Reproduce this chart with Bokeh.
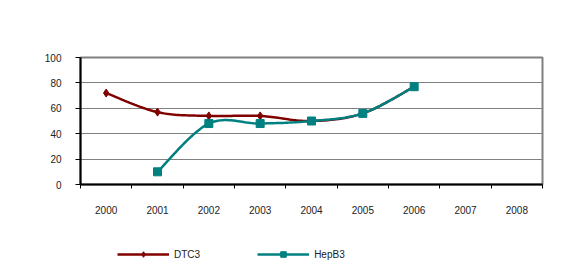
import numpy as np
from bokeh.plotting import figure
from bokeh.layouts import column
from bokeh.models import (FixedTicker, Range1d, Legend, LegendItem, BoxAnnotation)
from bokeh.embed import file_html
from bokeh.resources import INLINE

years = ["2000", "2001", "2002", "2003", "2004", "2005", "2006", "2007", "2008"]
dtc3_years = ["2000", "2001", "2002", "2003", "2004", "2005", "2006"]
dtc3 = [72, 57, 54, 54, 50, 56, 77]
hepb3_years = ["2001", "2002", "2003", "2004", "2005", "2006"]
hepb3 = [10, 48, 48, 50, 56, 77]
y_ticks = [0, 20, 40, 60, 80, 100]
series_names = ["DTC3", "HepB3"]

FONT = "Liberation Sans"
red = "#800000"
teal = "#008080"
STRIP = "#f4f4f4"
EDGE = "#c4c4c4"


def xpos(labels):
    return [years.index(l) + 0.5 for l in labels]


def smooth(xs, ys, n=24):
    """Catmull-Rom style smoothing through the data points (like Excel's smoothed line)."""
    xs = np.asarray(xs, float)
    ys = np.asarray(ys, float)
    pts = np.column_stack([xs, ys])
    out = [pts[0]]
    for i in range(len(pts) - 1):
        p0 = pts[i - 1] if i > 0 else pts[i]
        p1 = pts[i]
        p2 = pts[i + 1]
        p3 = pts[i + 2] if i + 2 < len(pts) else pts[i + 1]
        c1 = p1 + (p2 - p0) / 6.0
        c2 = p2 - (p3 - p1) / 6.0
        t = np.linspace(0, 1, n)[1:, None]
        seg = ((1 - t) ** 3) * p1 + 3 * ((1 - t) ** 2) * t * c1 + 3 * (1 - t) * t ** 2 * c2 + t ** 3 * p2
        out.extend(seg)
    out = np.array(out)
    return out[:, 0], out[:, 1]


def screen_box(fig, left, right, bottom, top, color):
    fig.add_layout(BoxAnnotation(left=left, right=right, bottom=bottom, top=top,
                                 left_units="screen", right_units="screen",
                                 bottom_units="screen", top_units="screen",
                                 fill_color=color, fill_alpha=1, line_color=None,
                                 level="underlay"))


p = figure(width=561, height=230, output_backend="svg", toolbar_location=None,
           x_range=Range1d(0, len(years)), y_range=Range1d(0, 100),
           min_border_left=80, min_border_right=19, min_border_top=57, min_border_bottom=46)

p.background_fill_color = "white"
p.border_fill_color = "white"
p.outline_line_color = "#808080"
p.outline_line_width = 2

# page-like frame around the chart (screen units relative to the plot frame)
screen_box(p, -80, -70, -46, 57 + 127, STRIP)
screen_box(p, -80, 481, 127 + 48, 127 + 57, STRIP)
screen_box(p, -70, -68, -46, 127 + 48, EDGE)
screen_box(p, -70, 481, 127 + 46, 127 + 48, EDGE)

p.xgrid.grid_line_color = None
p.ygrid.ticker = FixedTicker(ticks=y_ticks)
p.ygrid.grid_line_color = "#808080"
p.ygrid.grid_line_width = 1

# x axis: labels centred in categories, ticks between them
p.xaxis.ticker = FixedTicker(ticks=[i + 0.5 for i in range(len(years))],
                             minor_ticks=list(range(len(years) + 1)))
p.xaxis.major_label_overrides = {i + 0.5: y for i, y in enumerate(years)}
p.xaxis.major_tick_line_color = None
p.xaxis.major_tick_out = 0
p.xaxis.major_tick_in = 0
p.xaxis.minor_tick_line_color = "black"
p.xaxis.minor_tick_out = 4
p.xaxis.minor_tick_in = 0
p.xaxis.major_label_standoff = 17
p.xaxis.axis_line_color = "black"
p.xaxis.axis_line_width = 2

p.yaxis.ticker = FixedTicker(ticks=y_ticks)
p.yaxis.minor_tick_line_color = None
p.yaxis.major_tick_out = 5
p.yaxis.major_tick_in = 0
p.yaxis.major_tick_line_color = "black"
p.yaxis.major_label_standoff = 14
p.yaxis.axis_line_color = "black"
p.yaxis.axis_line_width = 2

for ax in (p.xaxis, p.yaxis):
    ax.major_label_text_font = FONT
    ax.major_label_text_font_size = "10px"
    ax.major_label_text_color = "#222222"

sx, sy = smooth(xpos(dtc3_years), dtc3)
p.line(sx, sy, line_color=red, line_width=2.5)
p.scatter(xpos(dtc3_years), dtc3, marker="diamond", size=8, fill_color=red, line_color=red)

sx2, sy2 = smooth(xpos(hepb3_years), hepb3)
p.line(sx2, sy2, line_color=teal, line_width=2.5)
p.scatter(xpos(hepb3_years), hepb3, marker="square", size=8, fill_color=teal, line_color=teal)

# legend strip below the chart (its own small figure; the series are drawn
# there out of its visible range so only the legend shows)
lg = figure(width=561, height=37, output_backend="svg", toolbar_location=None,
            x_range=Range1d(-1000, -999), y_range=Range1d(-1000, -999),
            min_border_left=0, min_border_right=0, min_border_top=0, min_border_bottom=0,
            x_axis_location=None, y_axis_location=None)
lg.grid.visible = False
lg.outline_line_color = None
lg.background_fill_color = "white"
lg.border_fill_color = "white"
screen_box(lg, -80, -70, -5, 40, STRIP)
screen_box(lg, -70, -68, -5, 40, EDGE)
dl1 = lg.line(xpos(dtc3_years), dtc3, line_color=red, line_width=2.5)
dm1 = lg.scatter(xpos(dtc3_years), dtc3, marker="diamond", size=8, fill_color=red, line_color=red)
dl2 = lg.line(xpos(hepb3_years), hepb3, line_color=teal, line_width=2.5)
dm2 = lg.scatter(xpos(hepb3_years), hepb3, marker="square", size=8, fill_color=teal, line_color=teal)

legend = Legend(items=[LegendItem(label=series_names[0], renderers=[dl1, dm1]),
                       LegendItem(label=series_names[1], renderers=[dl2, dm2])],
                orientation="horizontal", location=(37, 6),
                glyph_width=52, glyph_height=14, label_height=14, label_standoff=5,
                spacing=57, padding=0, margin=0,
                label_text_font=FONT, label_text_font_size="10px", label_text_color="#222222",
                border_line_color=None, background_fill_alpha=0)
lg.add_layout(legend, "center")

layout = column(p, lg, spacing=0)
open("out.html", "w").write(file_html(layout, INLINE))
